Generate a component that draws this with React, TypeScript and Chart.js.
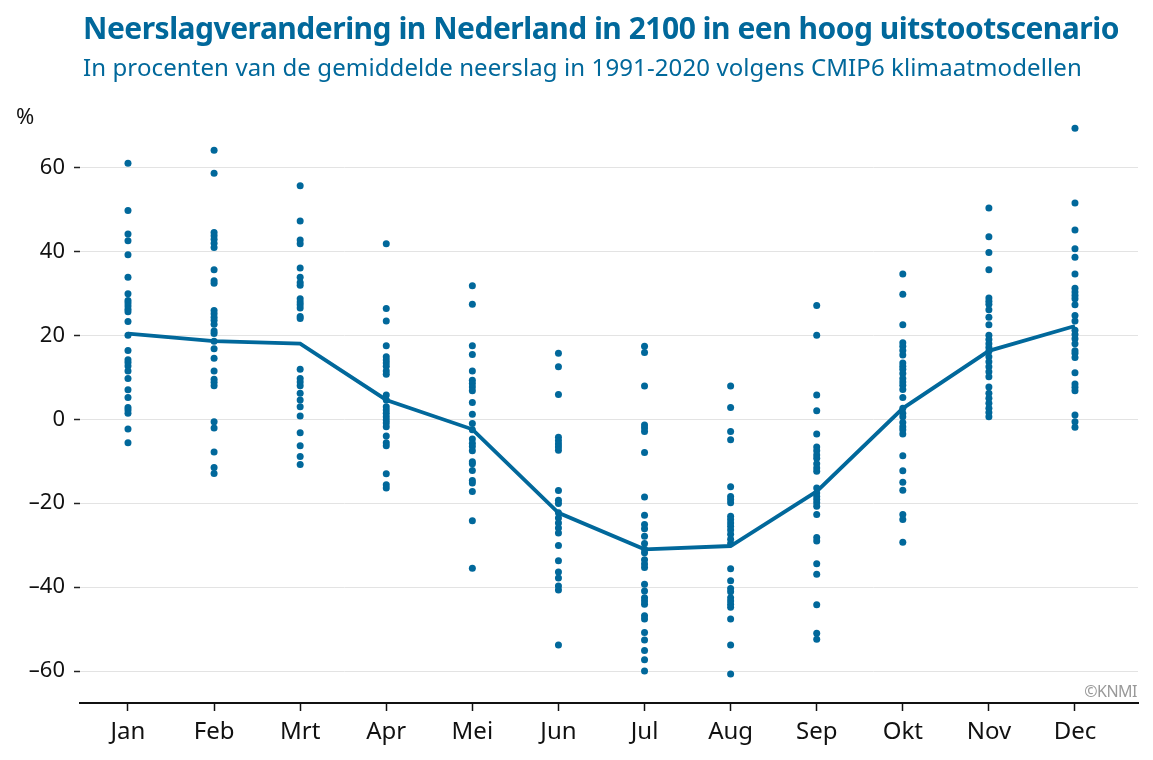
import React, { useEffect, useRef } from "react";
import { Chart, registerables } from "chart.js";

Chart.register(...registerables);

const months = ["Jan", "Feb", "Mrt", "Apr", "Mei", "Jun", "Jul", "Aug", "Sep", "Okt", "Nov", "Dec"];

const jan = [61.0, 49.7, 44.1, 42.5, 39.2, 33.8, 29.9, 28.3, 27.7, 27.0, 26.2, 25.6, 23.3, 20.0, 16.4, 14.2, 13.5, 12.7, 11.5, 9.7, 7.0, 5.2, 2.8, 2.2, 1.4, -2.3, -5.6];
const feb = [64.1, 58.6, 44.5, 43.7, 42.9, 41.9, 40.9, 35.6, 33.0, 32.4, 25.9, 25.1, 24.3, 23.6, 22.6, 21.0, 20.4, 18.6, 16.8, 14.5, 11.5, 9.5, 8.8, 8.0, -0.6, -2.1, -7.8, -11.5, -12.9];
const mrt = [55.6, 47.2, 42.7, 41.8, 36.0, 33.8, 32.6, 31.9, 28.7, 27.9, 27.3, 26.5, 24.5, 24.0, 11.9, 9.7, 8.9, 8.0, 6.2, 4.6, 3.0, 0.8, -3.2, -6.3, -8.9, -10.8];
const apr = [41.8, 26.4, 23.4, 17.5, 14.9, 14.1, 13.4, 12.6, 11.5, 10.7, 5.8, 4.6, 3.0, 2.2, 1.4, 0.6, -0.2, -0.9, -1.8, -4.0, -5.6, -6.3, -13.0, -15.6, -16.4];
const mei = [31.8, 27.4, 17.5, 15.4, 11.5, 9.3, 8.5, 7.7, 6.8, 4.0, 1.2, -1.0, -2.5, -4.7, -5.7, -6.5, -7.5, -10.1, -10.6, -12.2, -14.6, -15.2, -17.2, -24.2, -35.5];
const jun = [15.7, 12.5, 5.9, -4.3, -5.1, -5.9, -6.6, -7.4, -17.0, -19.3, -20.1, -22.3, -23.5, -24.7, -25.9, -27.1, -30.1, -33.7, -36.4, -37.8, -39.7, -40.7, -53.8];
const jul = [17.4, 15.9, 7.9, -1.4, -2.1, -2.9, -7.9, -18.5, -22.9, -25.1, -26.1, -27.9, -29.6, -31.0, -31.8, -33.5, -34.5, -35.3, -39.3, -40.9, -42.5, -43.3, -44.1, -46.8, -47.6, -50.8, -52.6, -55.1, -57.3, -60.0];
const aug = [7.9, 2.8, -2.9, -4.9, -16.1, -18.4, -19.1, -19.9, -23.1, -23.9, -24.7, -25.5, -26.4, -27.4, -28.6, -29.6, -35.6, -38.5, -40.3, -41.1, -42.5, -43.3, -44.1, -44.8, -47.6, -53.8, -60.7];
const sep = [27.1, 20.0, 5.8, 2.0, -3.5, -6.6, -7.5, -8.5, -9.3, -10.6, -11.6, -12.4, -16.4, -17.6, -18.4, -19.1, -19.9, -20.7, -22.7, -28.2, -29.0, -34.4, -36.9, -44.2, -51.0, -52.4];
const okt = [34.6, 29.8, 22.5, 18.2, 17.4, 16.4, 15.3, 13.4, 12.6, 11.9, 10.9, 9.7, 8.9, 8.1, 7.1, 5.2, 2.6, 1.4, 0.6, -0.8, -1.8, -2.5, -3.5, -8.7, -12.3, -15.0, -16.9, -22.7, -23.9, -29.3];
const nov = [50.3, 43.5, 39.7, 35.6, 28.9, 28.1, 27.4, 26.1, 24.3, 22.5, 20.0, 19.0, 18.0, 17.1, 16.2, 14.9, 13.7, 12.5, 11.3, 10.1, 7.7, 6.2, 5.0, 3.8, 2.6, 1.6, 0.6];
const dec = [69.3, 51.5, 45.1, 40.6, 38.6, 34.6, 31.2, 30.3, 29.5, 28.7, 27.3, 24.7, 23.4, 21.2, 20.2, 19.2, 18.0, 16.3, 15.7, 14.7, 11.1, 8.4, 7.6, 6.8, 1.0, -0.6, -1.9];

const median = [20.4, 18.6, 18.0, 4.6, -2.4, -22.3, -31.0, -30.2, -17.2, 2.6, 16.3, 22.2];

const yTicks = [-60, -40, -20, 0, 20, 40, 60];

const BLUE = "#01689B";
const FONT = "'Noto Sans', 'Open Sans', sans-serif";

export default function App() {
  const ref = useRef<HTMLCanvasElement | null>(null);

  useEffect(() => {
    if (!ref.current) return;
    const models = [jan, feb, mrt, apr, mei, jun, jul, aug, sep, okt, nov, dec];
    const dots: { x: number; y: number }[] = [];
    models.forEach((arr, i) => arr.forEach((v) => dots.push({ x: i + 1, y: v })));
    const line = median.map((v, i) => ({ x: i + 1, y: v }));

    const chart = new Chart(ref.current, {
      type: "scatter",
      data: {
        datasets: [
          {
            type: "line",
            data: line,
            borderColor: BLUE,
            borderWidth: 3.8,
            pointRadius: 0,
            fill: false,
            tension: 0,
          } as any,
          {
            type: "scatter",
            data: dots,
            backgroundColor: BLUE,
            borderWidth: 0,
            pointRadius: 3.5,
          },
        ],
      },
      options: {
        animation: false,
        responsive: false,
        devicePixelRatio: 1,
        layout: { padding: { top: 117, right: 15, left: 0, bottom: 0 } },
        plugins: { legend: { display: false }, tooltip: { enabled: false } },
        scales: {
          x: {
            type: "linear",
            min: 0.4425,
            max: 12.732,
            afterBuildTicks: (scale: any) => {
              scale.ticks = months.map((_, i) => ({ value: i + 1 }));
            },
            afterFit: (scale: any) => {
              scale.height = 57;
            },
            ticks: {
              autoSkip: false,
              maxRotation: 0,
              padding: 7,
              color: "#111",
              font: { family: FONT, size: 24 },
              callback: (v: any) => months[Math.round(Number(v)) - 1] ?? "",
            },
            grid: {
              drawOnChartArea: false,
              drawTicks: true,
              tickLength: 8,
              tickColor: "#111",
              tickWidth: 1.5,
            },
            border: { display: true, color: "#111", width: 2 },
          },
          y: {
            type: "linear",
            min: -67.6,
            max: 72,
            afterBuildTicks: (scale: any) => {
              scale.ticks = yTicks.map((v) => ({ value: v }));
            },
            afterFit: (scale: any) => {
              scale.width = 80;
            },
            ticks: {
              padding: 9,
              color: "#111",
              font: { family: FONT, size: 22 },
              callback: (v: any) => {
                const n = Number(v);
                return n < 0 ? "\u2013" + Math.abs(n) : String(n);
              },
            },
            grid: {
              color: "#e3e3e3",
              lineWidth: 1,
              drawTicks: true,
              tickLength: 6,
              tickColor: "#222",
              tickWidth: 1.5,
            },
            border: { display: false },
          },
        },
      },
    });
    return () => chart.destroy();
  }, []);

  return (
    <div style={{ position: "fixed", left: 0, top: 0, width: 1153, height: 760, background: "#fff", fontFamily: FONT }}>
      <canvas ref={ref} width={1153} height={760} style={{ position: "absolute", left: 0, top: 0, width: 1153, height: 760 }} />
      <div style={{ position: "absolute", left: 83, top: 7, color: BLUE, fontWeight: 700, fontSize: 30, letterSpacing: -0.5, whiteSpace: "nowrap" }}>
        Neerslagverandering in Nederland in 2100 in een hoog uitstootscenario
      </div>
      <div style={{ position: "absolute", left: 83, top: 50, color: BLUE, fontSize: 24, letterSpacing: 0.1, whiteSpace: "nowrap" }}>
        In procenten van de gemiddelde neerslag in 1991-2020 volgens CMIP6 klimaatmodellen
      </div>
      <div style={{ position: "absolute", left: 16, top: 100, color: "#111", fontSize: 22 }}>%</div>
      <div style={{ position: "absolute", right: 16, top: 680, color: "#999", fontSize: 16, letterSpacing: -0.5 }}>©KNMI</div>
    </div>
  );
}
